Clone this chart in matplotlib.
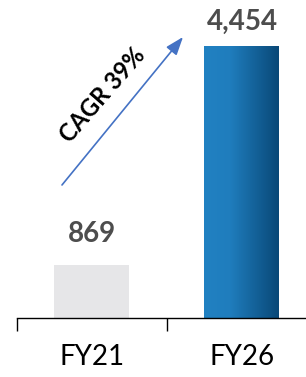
import matplotlib
matplotlib.use("Agg")
import matplotlib.pyplot as plt
import numpy as np
from matplotlib.colors import LinearSegmentedColormap

categories = ["FY21", "FY26"]
values = [869, 4454]
value_labels = ["869", "4,454"]
cagr_text = "CAGR 39%"

FONT = "Lato"

fig = plt.figure(figsize=(3.06, 3.77), dpi=100)
ax = fig.add_axes([17 / 306, 59 / 377, 1 - 17 / 306, 318 / 377])

x = np.arange(len(categories))
bars = ax.bar(x, values, width=0.5, color=["#e6e6e8", "none"], zorder=2)

# gradient fill for the FY26 bar
cmap = LinearSegmentedColormap.from_list(
    "blue", [(0.0, "#2181c2"), (0.35, "#1f7dbd"), (1.0, "#094877")])
b = bars[1]
grad = np.linspace(0, 1, 256).reshape(1, -1)
ax.imshow(grad, cmap=cmap, aspect="auto", zorder=2,
          extent=(b.get_x(), b.get_x() + b.get_width(), 0, b.get_height()))

# value labels above the bars
for xi, v, lab, off in zip(x, values, value_labels, [23, 17]):
    ax.annotate(lab, (xi, v), xytext=(0, off), textcoords="offset pixels",
                ha="center", va="baseline", fontsize=20, fontweight="bold",
                color="#4d4d4d", family=FONT)

# CAGR arrow
ax.annotate("", xy=(0.607, 4618), xytext=(-0.2, 2186),
            arrowprops=dict(arrowstyle="-|>,head_length=1.1,head_width=0.4",
                            color="#4472c4", lw=1.2, shrinkA=0, shrinkB=0))
ax.text(0.073, 3665, cagr_text, rotation=49, ha="center", va="center",
        fontsize=17, fontweight="bold", color="black", family=FONT,
        rotation_mode="anchor")

for s in ["top", "right", "left"]:
    ax.spines[s].set_visible(False)
ax.spines["bottom"].set_linewidth(1.0)
ax.set_yticks([])
ax.set_xticks([-0.5, 0.5, 1.5])
ax.set_xticklabels([])
ax.tick_params(axis="x", length=9, width=1.0, direction="out")
ax.set_xlim(-0.5, 1.427)
ax.set_ylim(0, 5226)

for xi, c in zip(x, categories):
    ax.annotate(c, (xi, 0), xytext=(0, -39), textcoords="offset pixels",
                ha="center", va="center", fontsize=20, family=FONT,
                color="black")

fig.savefig("out.png", dpi=100)
